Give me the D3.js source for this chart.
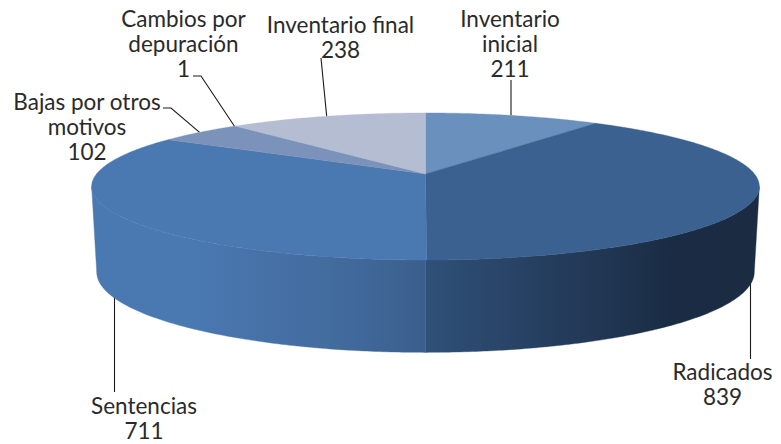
<!DOCTYPE html>
<html>
<head>
<meta charset="utf-8">
<script src="https://cdn.jsdelivr.net/npm/d3@7"></script>
<style>
  html, body { margin: 0; padding: 0; background: #fff; }
  text { font-family: "Lato", sans-serif; font-size: 22.5px; fill: #2a2a2a; }
</style>
</head>
<body>
<svg id="chart" width="781" height="444"></svg>
<script>
const categories = ["Inventario inicial", "Radicados", "Sentencias", "Bajas por otros motivos", "Cambios por depuración", "Inventario final"];
const values = [211, 839, 711, 102, 1, 238];

const labelLines = [
  ["Inventario", "inicial", "211"],
  ["Radicados", "839"],
  ["Sentencias", "711"],
  ["Bajas por otros", "motivos", "102"],
  ["Cambios por", "depuración", "1"],
  ["Inventario final", "238"]
];
const topColors = ["#6a90bd", "#3a618f", "#4a78b1", "#7b92ba", "#7b92ba", "#b4bdd2"];

const svg = d3.select("#chart");
const width = +svg.attr("width");
const height = +svg.attr("height");

// label placement: x centre, first baseline, leader points from the label to the pie
const labelPos = [
  { x: 510, y: 27, leader: [[511, 80]], vertical: true },
  { x: 722.5, y: 380, leader: [[750.5, 359]], vertical: true },
  { x: 144, y: 414, leader: [[114.5, 392]], vertical: true },
  { x: 87, y: 110, leader: [[163, 108], [171, 108]] },
  { x: 183.5, y: 27, leader: [[193, 76], [201, 76]] },
  { x: 340.5, y: 33, leader: [[321, 58]] }
];

// the tilted disc is a circle seen in perspective, so the far side is squeezed
const persp = 0.17;
const cx = 425.5;
const topFace = { r: 329, k: 71.4, cy: 174 };
const bottomFace = { r: 324, k: 78, cy: 258.4 };

function project(face, a) {
  const u = Math.sin(a), v = Math.cos(a), w = 1 + persp * v;
  return [cx + face.r * u / w, face.cy - face.k * v / w];
}

function arcPoints(face, a0, a1) {
  const n = Math.max(2, Math.ceil(Math.abs(a1 - a0) / 0.01));
  return d3.range(n + 1).map(i => project(face, a0 + (a1 - a0) * i / n));
}

const line = d3.line();
const pie = d3.pie().sort(null).value(d => d);
const arcs = pie(values);
const edgeAngle = Math.acos(-persp); // where the outline is widest

const defs = svg.append("defs");
const wallStops = [
  { id: "wallRight", x1: 426, x2: 755, stops: [[0, "#2f5078"], [0.35, "#263f60"], [0.75, "#1a2c44"], [1, "#1a2b42"]] },
  { id: "wallLeft", x1: 92, x2: 426, stops: [[0, "#4a78b1"], [0.3, "#4a78b1"], [0.7, "#436c9f"], [1, "#3a5f8d"]] }
];
wallStops.forEach(g => {
  defs.append("linearGradient")
    .attr("id", g.id)
    .attr("gradientUnits", "userSpaceOnUse")
    .attr("x1", g.x1).attr("x2", g.x2).attr("y1", 0).attr("y2", 0)
    .selectAll("stop")
    .data(g.stops)
    .join("stop")
    .attr("offset", d => d[0])
    .attr("stop-color", d => d[1]);
});

// leaders sit behind the pie
const leaderG = svg.append("g");
arcs.forEach((d, i) => {
  const mid = (d.startAngle + d.endAngle) / 2;
  const pos = labelPos[i];
  const onFront = Math.cos(mid) < -persp;
  let end = onFront ? project(bottomFace, mid) : project(topFace, i === 4 ? d.startAngle : mid);
  if (onFront) end = [end[0], end[1] - 4];
  if (pos.vertical) end = [pos.leader[0][0], end[1]];
  leaderG.append("path")
    .attr("fill", "none")
    .attr("stroke", "#1a1a1a")
    .attr("stroke-width", 1.1)
    .attr("d", line(pos.leader.concat([end])));
});

// side wall, split at the bottom of the disc
const walls = [
  { a0: edgeAngle, a1: Math.PI, fill: "url(#wallRight)" },
  { a0: Math.PI, a1: 2 * Math.PI - edgeAngle, fill: "url(#wallLeft)" }
];
svg.append("g")
  .selectAll("path")
  .data(walls)
  .join("path")
  .attr("fill", d => d.fill)
  .attr("stroke", d => d.fill)
  .attr("stroke-width", 0.4)
  .attr("d", d => line(arcPoints(topFace, d.a0, d.a1).concat(arcPoints(bottomFace, d.a1, d.a0))) + "Z");

// top face
svg.append("g")
  .selectAll("path")
  .data(arcs)
  .join("path")
  .attr("fill", (d, i) => topColors[i])
  .attr("stroke", (d, i) => topColors[i])
  .attr("stroke-width", 0.4)
  .attr("d", d => line([[cx, topFace.cy]].concat(arcPoints(topFace, d.startAngle, d.endAngle))) + "Z");

// labels
const labels = svg.append("g")
  .selectAll("text")
  .data(labelLines)
  .join("text")
  .attr("text-anchor", "middle")
  .attr("x", (d, i) => labelPos[i].x)
  .attr("y", (d, i) => labelPos[i].y);

labels.selectAll("tspan")
  .data((d, i) => d.map(t => ({ t, x: labelPos[i].x })))
  .join("tspan")
  .attr("x", d => d.x)
  .attr("dy", (d, j) => j ? 25 : 0)
  .text(d => d.t);
</script>
</body>
</html>
